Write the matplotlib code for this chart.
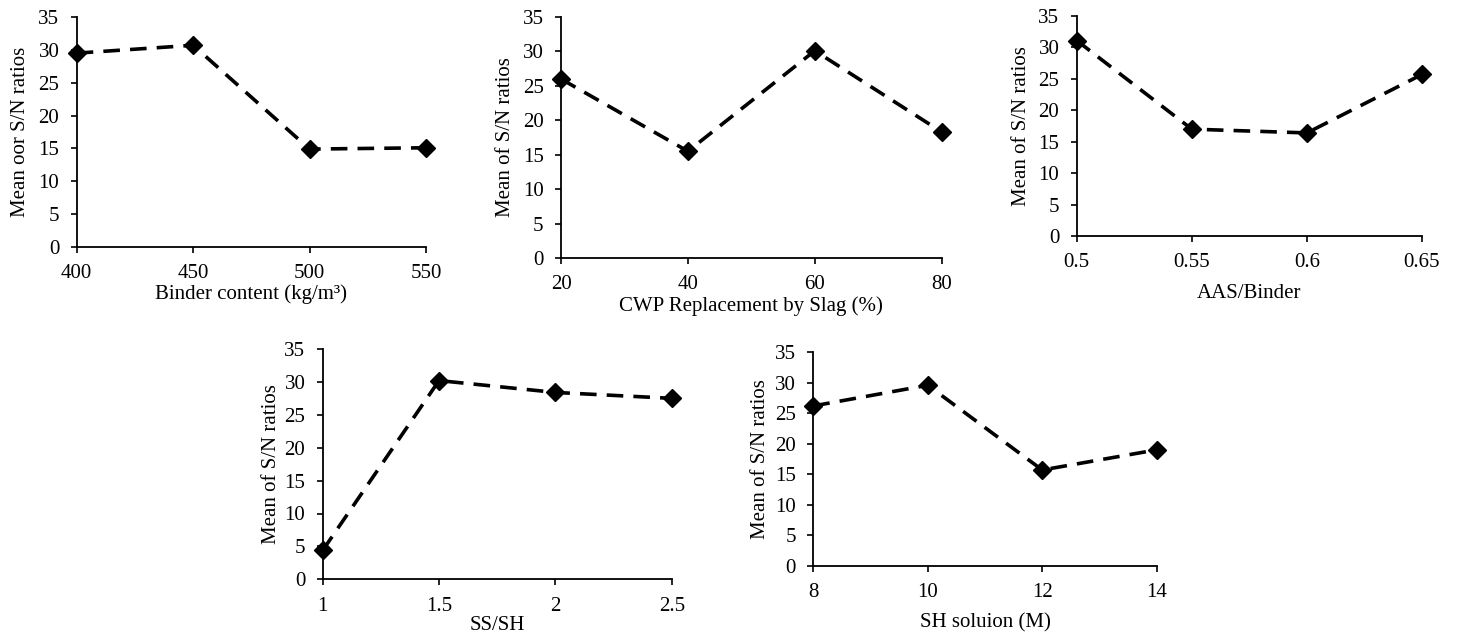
import numpy as np
import matplotlib
matplotlib.use("Agg")
import matplotlib.pyplot as plt

plt.rcParams['font.family'] = ['Liberation Serif', 'DejaVu Serif']
plt.rcParams['font.size'] = 15

W, H = 1459, 637

# data
binder_x = [400, 450, 500, 550]
binder_y = [29.5, 30.7, 14.9, 15.1]

slag_x = [20, 40, 60, 80]
slag_y = [26.0, 15.5, 30.1, 18.3]

aas_x = [0.5, 0.55, 0.6, 0.65]
aas_y = [31.1, 17.0, 16.4, 25.7]
aas_ticks = ['0.5', '0.55', '0.6', '0.65']

sssh_x = [1, 1.5, 2, 2.5]
sssh_y = [4.4, 30.2, 28.4, 27.5]
sssh_ticks = ['1', '1.5', '2', '2.5']

sh_x = [8, 10, 12, 14]
sh_y = [26.2, 29.6, 15.7, 19.0]

fig = plt.figure(figsize=(W / 100, H / 100), dpi=100)

# axes box in pixels (left, top, right, bottom), x, y, labels,
# x tick labels, xlabel centre y (px), ylabel centre x (px)
panels = [
    ((76.7, 17, 426, 247), binder_x, binder_y,
     'Binder content (kg/m\u00b3)', 'Mean oor S/N ratios', None, 294, 21),
    ((561, 17, 941.7, 258), slag_x, slag_y,
     'CWP Replacement by Slag (%)', 'Mean of S/N ratios', None, 306, 505),
    ((1076.7, 16, 1422, 236), aas_x, aas_y,
     'AAS/Binder', 'Mean of S/N ratios', aas_ticks, 293, 1022),
    ((322.7, 349, 671.7, 579.3), sssh_x, sssh_y,
     'SS/SH', 'Mean of S/N ratios', sssh_ticks, 625, 272),
    ((813.3, 352.3, 1156.7, 565.7), sh_x, sh_y,
     'SH soluion (M)', 'Mean of S/N ratios', None, 623, 760),
]

for (l, t, r, b), xs, ys, xl, yl, tl, xly, ylx in panels:
    ax = fig.add_axes([l / W, 1 - b / H, (r - l) / W, (b - t) / H])
    ax.plot(xs, ys, color='black', lw=2.6, linestyle=(0, (4.6, 2.8)),
            marker='D', markersize=9.5, markerfacecolor='black',
            markeredgecolor='black', clip_on=False, zorder=3)
    ax.set_xlim(xs[0], xs[-1])
    ax.set_ylim(0, 35)
    ax.set_yticks(np.arange(0, 36, 5))
    ax.set_xticks(xs)
    if tl is not None:
        ax.set_xticklabels(tl)
    for s in ['top', 'right']:
        ax.spines[s].set_visible(False)
    for s in ['left', 'bottom']:
        ax.spines[s].set_linewidth(1.3)
    ax.tick_params(axis='x', direction='out', length=4.5, width=1.2, pad=8)
    ax.tick_params(axis='y', direction='out', length=4.5, width=1.2, pad=8)
    ax.set_xlabel(xl, va='center')
    ax.set_ylabel(yl, va='center')
    ax.xaxis.set_label_coords((l + r) / 2 / W, 1 - xly / H, transform=fig.transFigure)
    ax.yaxis.set_label_coords(ylx / W, 1 - (t + b) / 2 / H, transform=fig.transFigure)

fig.savefig('out.png', dpi=100)
